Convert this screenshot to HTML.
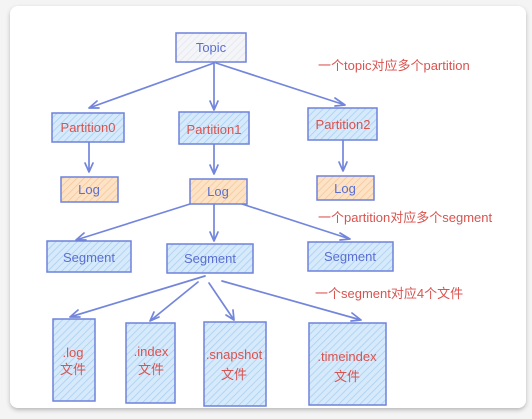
<!DOCTYPE html>
<html><head><meta charset="utf-8"><style>
html,body{margin:0;padding:0;background:#f4f4f4;width:532px;height:419px;overflow:hidden}
svg{display:block}
text{font-family:"Liberation Sans","Noto Sans CJK SC",sans-serif}
</style></head><body>
<svg width="532" height="419" viewBox="0 0 532 419" xmlns="http://www.w3.org/2000/svg">
<defs>
<pattern id="hb" width="5" height="5" patternUnits="userSpaceOnUse" patternTransform="rotate(45)">
<rect width="5" height="5" fill="#d6eafb"/><line x1="0" y1="0" x2="0" y2="5" stroke="#a9d0f2" stroke-width="1.6"/></pattern>
<pattern id="ho" width="5" height="5" patternUnits="userSpaceOnUse" patternTransform="rotate(45)">
<rect width="5" height="5" fill="#fde3c6"/><line x1="0" y1="0" x2="0" y2="5" stroke="#f7c699" stroke-width="1.6"/></pattern>
<pattern id="hg" width="5" height="5" patternUnits="userSpaceOnUse" patternTransform="rotate(45)">
<rect width="5" height="5" fill="#f4f5f8"/><line x1="0" y1="0" x2="0" y2="5" stroke="#e2e4ea" stroke-width="1.4"/></pattern>
<filter id="sh" x="-5%" y="-5%" width="110%" height="110%"><feDropShadow dx="0" dy="2" stdDeviation="2" flood-color="#000" flood-opacity="0.25"/></filter>
</defs>
<rect x="10" y="6" width="516" height="402" rx="8" fill="#fff" filter="url(#sh)"/>
<g stroke="#7386dc" stroke-width="1.7" fill="none" stroke-linecap="round">
<path d="M214 63 L89 108 M89 108 l8 -7 M89 108 l10 0"/>
<path d="M214 63 L214 110 M214 110 l-4 -9 M214 110 l4 -9"/>
<path d="M216 63 L345 105 M345 105 l-10 -7 M345 105 l-10 1"/>
<path d="M89 142 L89 172 M89 172 l-4 -9 M89 172 l4 -9"/>
<path d="M214 144 L214 174 M214 174 l-4 -9 M214 174 l4 -9"/>
<path d="M343 140 L343 171 M343 171 l-4 -9 M343 171 l4 -9"/>
<path d="M190 204 L76 240 M76 240 l8 -7 M76 240 l10 0"/>
<path d="M214 203 L214 241 M214 241 l-4 -9 M214 241 l4 -9"/>
<path d="M242 204 L350 239 M350 239 l-10 -6 M350 239 l-10 1"/>
<path d="M205 276 L70 317 M70 317 l8 -7 M70 317 l10 0"/>
<path d="M198 282 L150 321 M150 321 l4 -9 M150 321 l9 -4"/>
<path d="M209 283 L234 320 M234 320 l-1 -10 M234 320 l-8 -5"/>
<path d="M222 281 L361 320 M361 320 l-9 -7 M361 320 l-10 1"/>
</g>
<g stroke="#6f82dc" stroke-width="1.5">
<rect x="176" y="33" width="70" height="29" fill="url(#hg)"/>
<rect x="52" y="113" width="72" height="29" fill="url(#hb)"/>
<rect x="179" y="112" width="70" height="32" fill="url(#hb)"/>
<rect x="308" y="108" width="69" height="32" fill="url(#hb)"/>
<rect x="61" y="177" width="57" height="25" fill="url(#ho)"/>
<rect x="190" y="179" width="57" height="25" fill="url(#ho)"/>
<rect x="317" y="176" width="57" height="24" fill="url(#ho)"/>
<rect x="47" y="241" width="84" height="31" fill="url(#hb)"/>
<rect x="167" y="244" width="86" height="29" fill="url(#hb)"/>
<rect x="308" y="242" width="85" height="29" fill="url(#hb)"/>
<rect x="53" y="319" width="42" height="82" fill="url(#hb)"/>
<rect x="126" y="323" width="49" height="80" fill="url(#hb)"/>
<rect x="204" y="322" width="62" height="84" fill="url(#hb)"/>
<rect x="309" y="323" width="77" height="82" fill="url(#hb)"/>
</g>
<g font-size="13" text-anchor="middle" fill="#5b6fd3">
<text x="211" y="52">Topic</text>
<text x="89" y="262">Segment</text>
<text x="210" y="263">Segment</text>
<text x="350" y="261">Segment</text>
<text x="89" y="194">Log</text>
<text x="218" y="196">Log</text>
<text x="345" y="193">Log</text>
</g>
<g font-size="13" text-anchor="middle" fill="#d9534f">
<text x="88" y="132">Partition0</text>
<text x="214" y="134">Partition1</text>
<text x="343" y="129">Partition2</text>
<text x="73" y="357">.log</text><text x="73" y="374">文件</text>
<text x="151" y="356">.index</text><text x="151" y="374">文件</text>
<text x="234" y="359">.snapshot</text><text x="234" y="379">文件</text>
<text x="347" y="361">.timeindex</text><text x="347" y="381">文件</text>
</g>
<g font-size="13" fill="#d9534f">
<text x="318" y="70">一个topic对应多个partition</text>
<text x="318" y="222">一个partition对应多个segment</text>
<text x="315" y="298">一个segment对应4个文件</text>
</g>
</svg>
</body></html>
